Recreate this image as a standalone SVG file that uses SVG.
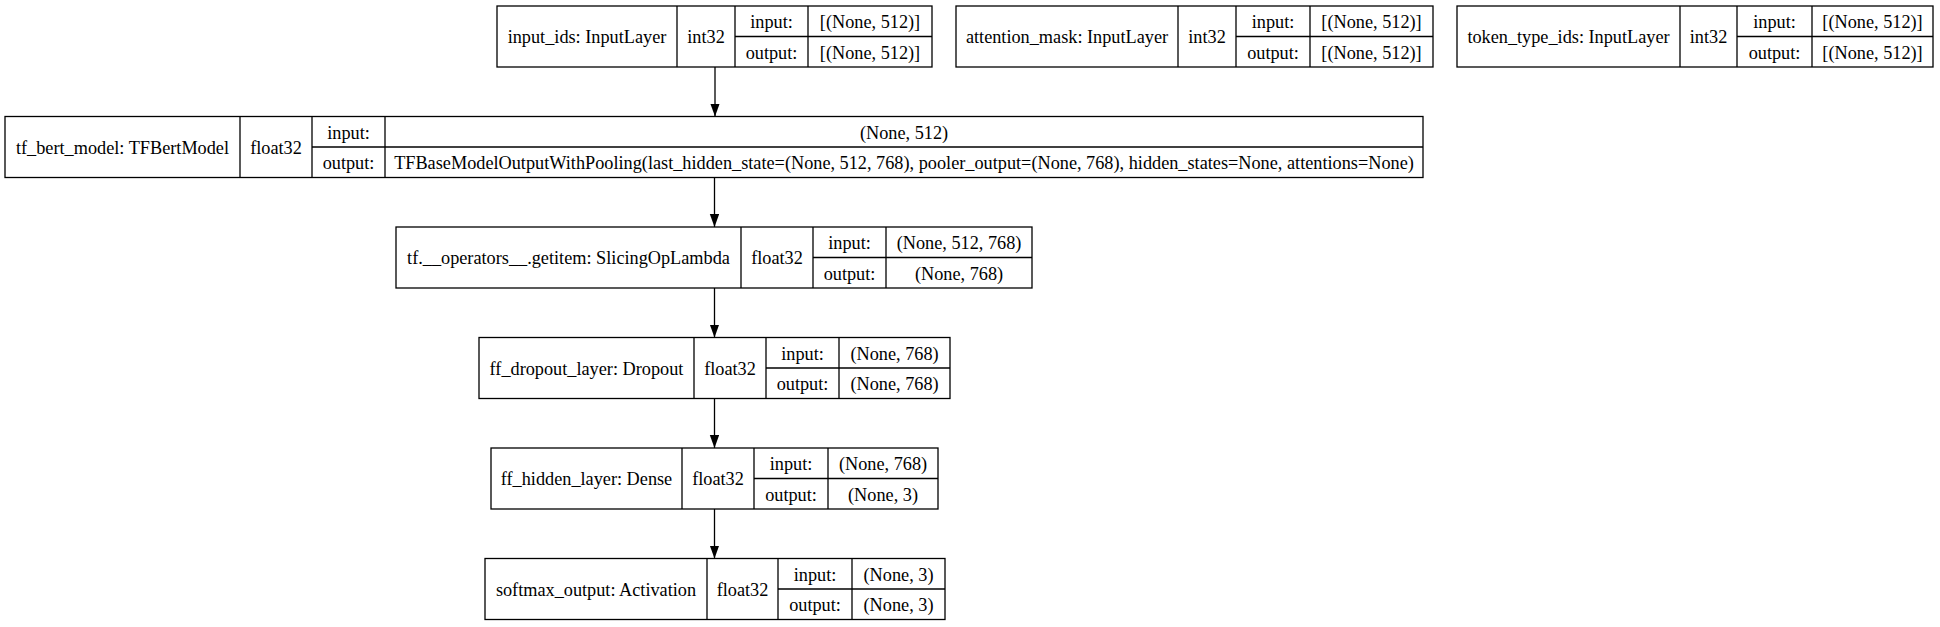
<svg xmlns="http://www.w3.org/2000/svg" width="1940" height="627" viewBox="0 0 1940 627">
<style>
rect.b{fill:#fff;stroke:#000;stroke-width:1.3}
line.d{stroke:#000;stroke-width:1.3}
text{font-family:"Liberation Serif","Times New Roman",serif;font-size:18.25px;fill:#000;text-anchor:middle}
.e{stroke:#000;stroke-width:1.3;fill:none}
</style>
<defs>
<marker id="ah" markerUnits="userSpaceOnUse" markerWidth="14" markerHeight="10" refX="13" refY="4.7" orient="auto">
<path d="M0,0 L13,4.7 L0,9.4 z" fill="#000"/>
</marker>
</defs>
<rect width="1940" height="627" fill="#fff"/>
<g id="connectors">
<path class="e" d="M715,67 L715,116.5" marker-end="url(#ah)"/>
<path class="e" d="M714.5,177.5 L714.5,227" marker-end="url(#ah)"/>
<path class="e" d="M714.5,288 L714.5,337.5" marker-end="url(#ah)"/>
<path class="e" d="M714.5,398.5 L714.5,448" marker-end="url(#ah)"/>
<path class="e" d="M714.5,509 L714.5,558.5" marker-end="url(#ah)"/>
</g>
<g id="input_ids">
<rect class="b" x="497" y="6" width="435" height="61"/>
<line class="d" x1="677" y1="6" x2="677" y2="67"/>
<line class="d" x1="735" y1="6" x2="735" y2="67"/>
<line class="d" x1="808" y1="6" x2="808" y2="67"/>
<line class="d" x1="735" y1="36.5" x2="932" y2="36.5"/>
<text x="587" y="43">input_ids: InputLayer</text>
<text x="706" y="43">int32</text>
<text x="771.5" y="28">input:</text>
<text x="771.5" y="58.5">output:</text>
<text x="870" y="28">[(None, 512)]</text>
<text x="870" y="58.5">[(None, 512)]</text>
</g>
<g id="attention_mask">
<rect class="b" x="956" y="6" width="477" height="61"/>
<line class="d" x1="1178" y1="6" x2="1178" y2="67"/>
<line class="d" x1="1236" y1="6" x2="1236" y2="67"/>
<line class="d" x1="1310" y1="6" x2="1310" y2="67"/>
<line class="d" x1="1236" y1="36.5" x2="1433" y2="36.5"/>
<text x="1067" y="43">attention_mask: InputLayer</text>
<text x="1207" y="43">int32</text>
<text x="1273" y="28">input:</text>
<text x="1273" y="58.5">output:</text>
<text x="1371.5" y="28">[(None, 512)]</text>
<text x="1371.5" y="58.5">[(None, 512)]</text>
</g>
<g id="token_type_ids">
<rect class="b" x="1457" y="6" width="476" height="61"/>
<line class="d" x1="1680" y1="6" x2="1680" y2="67"/>
<line class="d" x1="1737" y1="6" x2="1737" y2="67"/>
<line class="d" x1="1812" y1="6" x2="1812" y2="67"/>
<line class="d" x1="1737" y1="36.5" x2="1933" y2="36.5"/>
<text x="1568.5" y="43">token_type_ids: InputLayer</text>
<text x="1708.5" y="43">int32</text>
<text x="1774.5" y="28">input:</text>
<text x="1774.5" y="58.5">output:</text>
<text x="1872.5" y="28">[(None, 512)]</text>
<text x="1872.5" y="58.5">[(None, 512)]</text>
</g>
<g id="tf_bert_model">
<rect class="b" x="5" y="116.5" width="1418" height="61"/>
<line class="d" x1="240" y1="116.5" x2="240" y2="177.5"/>
<line class="d" x1="312" y1="116.5" x2="312" y2="177.5"/>
<line class="d" x1="385" y1="116.5" x2="385" y2="177.5"/>
<line class="d" x1="312" y1="147" x2="1423" y2="147"/>
<text x="122.5" y="153.5">tf_bert_model: TFBertModel</text>
<text x="276" y="153.5">float32</text>
<text x="348.5" y="138.5">input:</text>
<text x="348.5" y="169">output:</text>
<text x="904" y="138.5">(None, 512)</text>
<text x="904" y="169">TFBaseModelOutputWithPooling(last_hidden_state=(None, 512, 768), pooler_output=(None, 768), hidden_states=None, attentions=None)</text>
</g>
<g id="getitem">
<rect class="b" x="396" y="227" width="636" height="61"/>
<line class="d" x1="741" y1="227" x2="741" y2="288"/>
<line class="d" x1="813" y1="227" x2="813" y2="288"/>
<line class="d" x1="886" y1="227" x2="886" y2="288"/>
<line class="d" x1="813" y1="257.5" x2="1032" y2="257.5"/>
<text x="568.5" y="264">tf.__operators__.getitem: SlicingOpLambda</text>
<text x="777" y="264">float32</text>
<text x="849.5" y="249">input:</text>
<text x="849.5" y="279.5">output:</text>
<text x="959" y="249">(None, 512, 768)</text>
<text x="959" y="279.5">(None, 768)</text>
</g>
<g id="ff_dropout_layer">
<rect class="b" x="479" y="337.5" width="471" height="61"/>
<line class="d" x1="694" y1="337.5" x2="694" y2="398.5"/>
<line class="d" x1="766" y1="337.5" x2="766" y2="398.5"/>
<line class="d" x1="839" y1="337.5" x2="839" y2="398.5"/>
<line class="d" x1="766" y1="368" x2="950" y2="368"/>
<text x="586.5" y="374.5">ff_dropout_layer: Dropout</text>
<text x="730" y="374.5">float32</text>
<text x="802.5" y="359.5">input:</text>
<text x="802.5" y="390">output:</text>
<text x="894.5" y="359.5">(None, 768)</text>
<text x="894.5" y="390">(None, 768)</text>
</g>
<g id="ff_hidden_layer">
<rect class="b" x="491" y="448" width="447" height="61"/>
<line class="d" x1="682" y1="448" x2="682" y2="509"/>
<line class="d" x1="754" y1="448" x2="754" y2="509"/>
<line class="d" x1="828" y1="448" x2="828" y2="509"/>
<line class="d" x1="754" y1="478.5" x2="938" y2="478.5"/>
<text x="586.5" y="485">ff_hidden_layer: Dense</text>
<text x="718" y="485">float32</text>
<text x="791" y="470">input:</text>
<text x="791" y="500.5">output:</text>
<text x="883" y="470">(None, 768)</text>
<text x="883" y="500.5">(None, 3)</text>
</g>
<g id="softmax_output">
<rect class="b" x="485" y="558.5" width="460" height="61"/>
<line class="d" x1="707" y1="558.5" x2="707" y2="619.5"/>
<line class="d" x1="778" y1="558.5" x2="778" y2="619.5"/>
<line class="d" x1="852" y1="558.5" x2="852" y2="619.5"/>
<line class="d" x1="778" y1="589" x2="945" y2="589"/>
<text x="596" y="595.5">softmax_output: Activation</text>
<text x="742.5" y="595.5">float32</text>
<text x="815" y="580.5">input:</text>
<text x="815" y="611">output:</text>
<text x="898.5" y="580.5">(None, 3)</text>
<text x="898.5" y="611">(None, 3)</text>
</g>
</svg>
